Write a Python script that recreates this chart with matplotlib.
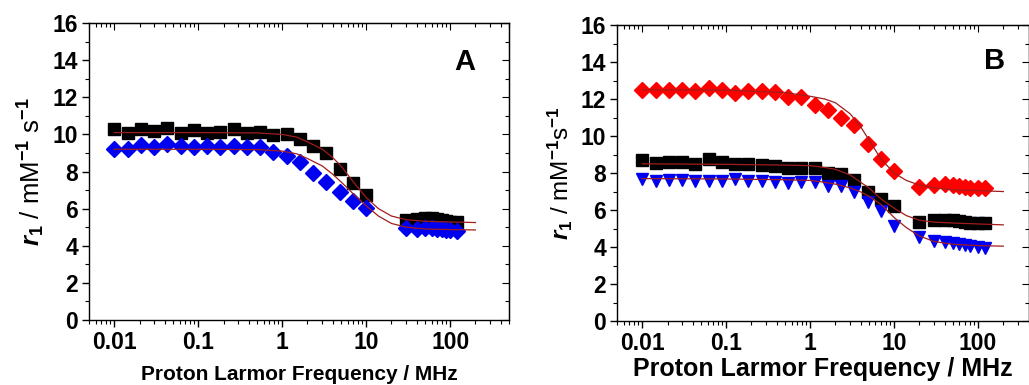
import matplotlib
matplotlib.use('Agg')
from matplotlib import pyplot as plt
from matplotlib.ticker import AutoMinorLocator, LogLocator, NullFormatter

plt.rcParams['font.family'] = ['Liberation Sans', 'DejaVu Sans']
plt.rcParams['font.weight'] = 'bold'
plt.rcParams['mathtext.fontset'] = 'custom'
plt.rcParams['mathtext.rm'] = 'Liberation Sans:bold'
plt.rcParams['mathtext.bf'] = 'Liberation Sans:bold'
plt.rcParams['mathtext.it'] = 'Liberation Sans:italic:bold'

# field-cycling frequencies (MHz) and high field points
freq_lf = [0.01, 0.0144, 0.0207, 0.0298, 0.0428, 0.0616, 0.0886, 0.127, 0.183, 0.264,
           0.379, 0.546, 0.785, 1.13, 1.62, 2.34, 3.36, 4.83, 6.95, 10.0]
freq_hf_a = [30, 40, 50, 60, 70, 80, 90, 100, 120]
freq_hf_b = [20, 30, 40, 50, 60, 70, 80, 100, 120]

# panel A
a_black_lf = [10.3, 10.1, 10.3, 10.2, 10.35, 10.05, 10.25, 10.1, 10.15, 10.3,
              10.1, 10.15, 9.95, 10.0, 9.75, 9.37, 9.0, 8.13, 7.4, 6.74]
a_black_hf = [5.4, 5.45, 5.5, 5.5, 5.45, 5.4, 5.35, 5.3, 5.3]
a_blue_lf = [9.2, 9.2, 9.45, 9.3, 9.5, 9.4, 9.3, 9.4, 9.3, 9.4,
             9.3, 9.3, 9.05, 8.85, 8.5, 7.9, 7.45, 6.9, 6.4, 6.05]
a_blue_hf = [4.95, 4.9, 4.95, 4.95, 4.9, 4.9, 4.85, 4.85, 4.8]

# panel B
b_red_lf = [12.5, 12.5, 12.5, 12.5, 12.45, 12.6, 12.5, 12.35, 12.45, 12.45,
            12.4, 12.1, 12.1, 11.7, 11.4, 11.0, 10.6, 9.55, 8.75, 8.1]
b_red_hf = [7.25, 7.35, 7.4, 7.35, 7.3, 7.25, 7.2, 7.2, 7.2]
b_black_lf = [8.7, 8.55, 8.6, 8.6, 8.5, 8.75, 8.6, 8.5, 8.5, 8.45,
              8.4, 8.3, 8.3, 8.3, 8.0, 7.95, 7.6, 6.95, 6.6, 6.2]
b_black_hf = [5.35, 5.45, 5.45, 5.45, 5.4, 5.35, 5.3, 5.3, 5.3]
b_blue_lf = [7.7, 7.55, 7.6, 7.65, 7.55, 7.55, 7.55, 7.7, 7.55, 7.55,
             7.5, 7.45, 7.5, 7.5, 7.3, 7.3, 6.95, 6.45, 5.95, 5.15]
b_blue_hf = [4.55, 4.35, 4.3, 4.2, 4.15, 4.1, 4.05, 4.0, 3.95]

# fitted profiles
fit_freq = [0.01, 0.1, 0.5, 1, 1.5, 2, 3, 4, 5, 7, 10, 14, 20, 30, 50, 100, 200]
a_black_fit = [10.1, 10.1, 10.08, 10.0, 9.85, 9.6, 9.2, 8.75, 8.3, 7.45, 6.6, 6.0, 5.6, 5.4, 5.32, 5.28, 5.25]
a_blue_fit = [9.2, 9.2, 9.18, 9.1, 8.95, 8.7, 8.3, 7.85, 7.45, 6.8, 6.15, 5.6, 5.2, 5.0, 4.9, 4.87, 4.85]
b_red_fit = [12.5, 12.48, 12.35, 12.15, 12.0, 11.8, 11.2, 10.5, 9.8, 8.75, 8.0, 7.6, 7.35, 7.2, 7.1, 7.05, 7.0]
b_black_fit = [8.5, 8.47, 8.43, 8.4, 8.3, 8.2, 7.9, 7.5, 7.2, 6.6, 6.1, 5.7, 5.45, 5.35, 5.3, 5.25, 5.2]
b_blue_fit = [7.7, 7.68, 7.64, 7.6, 7.5, 7.4, 7.2, 6.98, 6.75, 6.3, 5.6, 5.05, 4.6, 4.3, 4.15, 4.08, 4.05]

fit_color = '#a11d1d'
blue = '#0000f0'
red = '#ff0000'

fig = plt.figure(figsize=(10.29, 3.85), dpi=100)
axA = fig.add_axes([0.0865, 0.169, 0.408, 0.771])
axB = fig.add_axes([0.5996, 0.166, 0.400, 0.769])


def style_axis(ax, xlim):
    ax.set_xscale('log')
    ax.set_xlim(*xlim)
    ax.set_ylim(0, 16)
    ax.set_yticks(range(0, 17, 2))
    ax.yaxis.set_minor_locator(AutoMinorLocator(2))
    ax.xaxis.set_minor_locator(LogLocator(base=10, subs=range(2, 10), numticks=20))
    ax.xaxis.set_minor_formatter(NullFormatter())
    ax.set_xticks([0.01, 0.1, 1, 10, 100])
    ax.set_xticklabels(['0.01', '0.1', '1', '10', '100'])
    ax.tick_params(which='major', direction='out', length=5, width=1, labelsize=16.5, pad=3)
    ax.tick_params(which='minor', direction='out', length=3, width=0.8)
    for s in ax.spines.values():
        s.set_linewidth(1)
    top = ax.secondary_xaxis('top')
    top.set_xticks([0.01, 0.1, 1, 10, 100])
    top.xaxis.set_minor_locator(LogLocator(base=10, subs=range(2, 10), numticks=20))
    top.tick_params(which='major', direction='in', length=5, labeltop=False)
    top.tick_params(which='minor', direction='in', length=3, width=0.8)
    right = ax.secondary_yaxis('right')
    right.set_yticks(range(0, 17, 2))
    right.yaxis.set_minor_locator(AutoMinorLocator(2))
    right.tick_params(which='major', direction='in', length=5, labelright=False)
    right.tick_params(which='minor', direction='in', length=3, width=0.8)


# panel A
axA.plot(freq_lf, a_black_lf, 's', color='black', ms=8.5, zorder=3)
axA.plot(freq_hf_a, a_black_hf, 's', color='black', ms=8.5, zorder=3)
axA.plot(freq_lf, a_blue_lf, 'D', color=blue, ms=8, zorder=3)
axA.plot(freq_hf_a, a_blue_hf, 'D', color=blue, ms=8, zorder=3)
axA.plot(fit_freq, a_black_fit, '-', color=fit_color, lw=0.9, zorder=4)
axA.plot(fit_freq, a_blue_fit, '-', color=fit_color, lw=0.9, zorder=4)
style_axis(axA, (0.005, 500))
axA.set_xlabel('Proton Larmor Frequency / MHz', fontsize=15, fontweight='bold', labelpad=8)
axA.set_ylabel(r'$r_1$ / mM$^{-1}$ s$^{-1}$', fontsize=18.5, labelpad=4)
axA.text(0.895, 0.87, 'A', transform=axA.transAxes, fontsize=21, fontweight='bold',
         ha='center', va='center')

# panel B
axB.plot(freq_lf, b_red_lf, 'D', color=red, ms=8, zorder=3)
axB.plot(freq_hf_b, b_red_hf, 'D', color=red, ms=8, zorder=3)
axB.plot(freq_lf, b_black_lf, 's', color='black', ms=8.5, zorder=3)
axB.plot(freq_hf_b, b_black_hf, 's', color='black', ms=8.5, zorder=3)
axB.plot(freq_lf, b_blue_lf, 'v', color=blue, ms=9, zorder=3)
axB.plot(freq_hf_b, b_blue_hf, 'v', color=blue, ms=9, zorder=3)
axB.plot(fit_freq, b_red_fit, '-', color=fit_color, lw=0.9, zorder=4)
axB.plot(fit_freq, b_black_fit, '-', color=fit_color, lw=0.9, zorder=4)
axB.plot(fit_freq, b_blue_fit, '-', color=fit_color, lw=0.9, zorder=4)
style_axis(axB, (0.005, 400))
axB.set_xlabel('Proton Larmor Frequency / MHz', fontsize=18, fontweight='bold', labelpad=1)
axB.set_ylabel(r'$r_1$ / mM$^{-1}$s$^{-1}$', fontsize=17.5, labelpad=4)
axB.text(0.917, 0.88, 'B', transform=axB.transAxes, fontsize=21, fontweight='bold',
         ha='center', va='center')

fig.savefig('out.png', dpi=100)
